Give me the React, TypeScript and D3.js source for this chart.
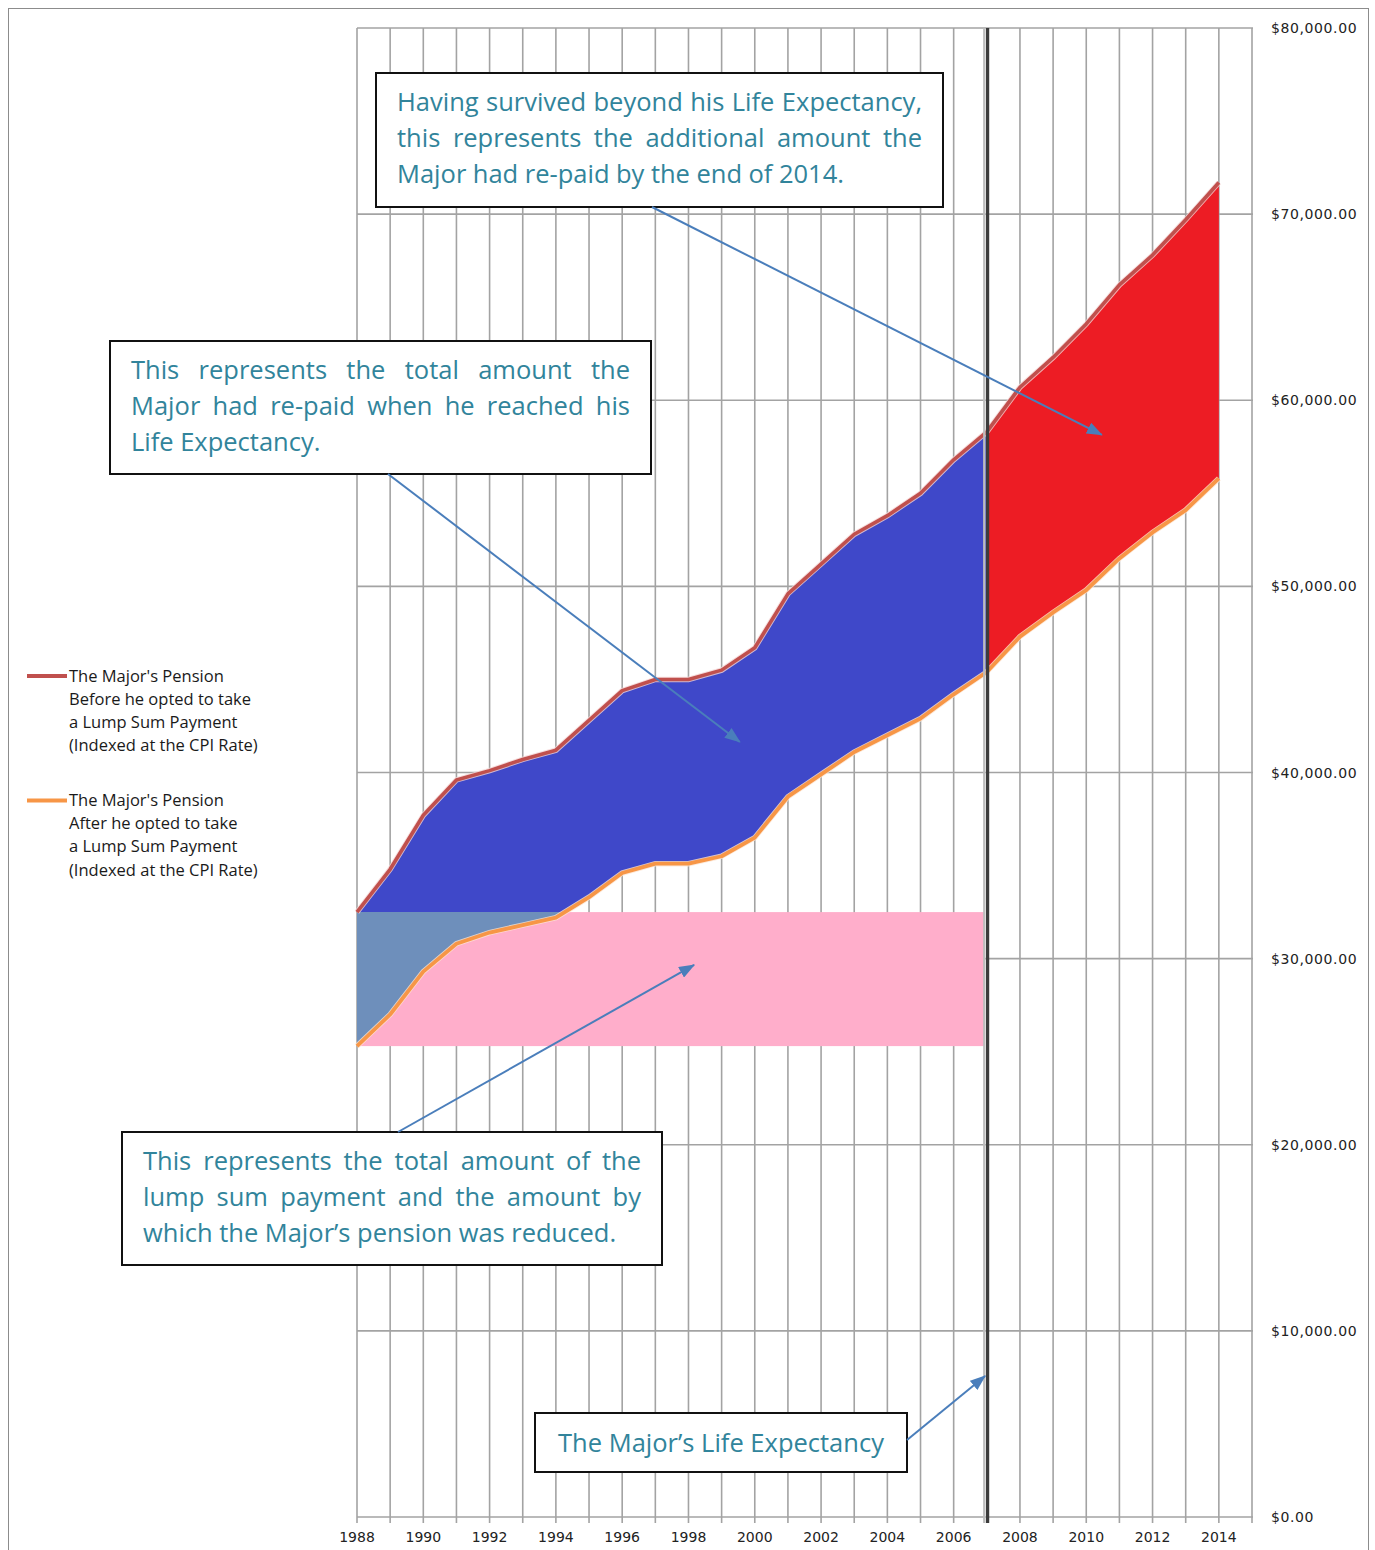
import React, { useEffect, useRef } from "react";
import * as d3 from "d3";

// yearly pension values
const years = [1988, 1989, 1990, 1991, 1992, 1993, 1994, 1995, 1996, 1997, 1998, 1999, 2000, 2001, 2002, 2003, 2004, 2005, 2006, 2007, 2008, 2009, 2010, 2011, 2012, 2013, 2014];
const pensionBefore = [32500, 34800, 37700, 39600, 40100, 40700, 41200, 42800, 44400, 45000, 45000, 45500, 46700, 49600, 51200, 52800, 53800, 55000, 56800, 58300, 60700, 62300, 64100, 66200, 67800, 69700, 71700];
const pensionAfter = [25300, 27000, 29300, 30800, 31400, 31800, 32200, 33300, 34600, 35100, 35100, 35500, 36500, 38700, 39900, 41100, 42000, 42900, 44200, 45400, 47300, 48600, 49800, 51500, 52900, 54100, 55800];
const yTicks = [0, 10000, 20000, 30000, 40000, 50000, 60000, 70000, 80000];
const xTickLabels = [1988, 1990, 1992, 1994, 1996, 1998, 2000, 2002, 2004, 2006, 2008, 2010, 2012, 2014];
const lifeExpectancyYear = 2007;
const lumpSumTop = 32500;
const lumpSumBottom = 25300;

const legendItems = [
  { color: "#C0504D", lines: ["The Major's Pension", "Before he opted to take", "a Lump Sum Payment", "(Indexed at the CPI Rate)"] },
  { color: "#F79646", lines: ["The Major's Pension", "After he opted to take", "a Lump Sum Payment", "(Indexed at the CPI Rate)"] },
];

// boxes are laid out in page pixels, arrow tips point at [year, value]
const notes = [
  {
    lines: ["Having survived beyond his Life Expectancy,", "this represents the additional amount the", "Major had re-paid by the end of 2014."],
    box: [376, 73, 943, 207], from: [652, 207], tip: [2010.47, 58140], align: "justify",
  },
  {
    lines: ["This represents the total amount the", "Major had re-paid when he reached his", "Life Expectancy."],
    box: [110, 341, 651, 474], from: [388, 474], tip: [1999.55, 41640], align: "justify",
  },
  {
    lines: ["This represents the total amount of the", "lump sum payment and the amount by", "which the Major\u2019s pension was reduced."],
    box: [122, 1132, 662, 1265], from: [398, 1132], tip: [1998.17, 29660], align: "justify",
  },
  {
    lines: ["The Major\u2019s Life Expectancy"],
    box: [535, 1413, 907, 1472], from: [907, 1440], tip: [2006.95, 7580], align: "center",
  },
];

const NOTE_FONT = "'Open Sans', Lato, sans-serif";
const AXIS_FONT = "'DejaVu Sans', sans-serif";

const App = () => {
  const svgRef = useRef(null);
  const width = 1375;
  const height = 1550;
  const margin = { top: 28, right: 123, bottom: 33, left: 357 };

  useEffect(() => {
    const svg = d3.select(svgRef.current);
    svg.selectAll("*").remove();

    const x = d3.scaleLinear().domain([1988, 2015]).range([margin.left, width - margin.right]);
    const y = d3.scaleLinear().domain([0, 80000]).range([height - margin.bottom, margin.top]);

    const rows = years.map((yr, i) => ({ year: yr, before: pensionBefore[i], after: pensionAfter[i] }));
    const early = rows.filter((d) => d.year <= lifeExpectancyYear);
    const late = rows.filter((d) => d.year >= lifeExpectancyYear);

    // outer frame
    svg.append("rect")
      .attr("x", 8.5).attr("y", 8.5)
      .attr("width", 1360).attr("height", 1570)
      .attr("fill", "white")
      .attr("stroke", "#8c8c8c");

    const grid = svg.append("g").attr("stroke", "#a3a3a3").attr("stroke-width", 1.6);
    // vertical gridlines, one per year
    grid.selectAll(".vg")
      .data(d3.range(1988, 2016))
      .enter()
      .append("line")
      .attr("x1", (d) => x(d)).attr("x2", (d) => x(d))
      .attr("y1", y(80000)).attr("y2", y(0) + 6);
    grid.selectAll(".hg")
      .data(yTicks)
      .enter()
      .append("line")
      .attr("x1", x(1988)).attr("x2", x(2015) + 1)
      .attr("y1", (d) => y(d)).attr("y2", (d) => y(d));

    // lump sum band
    svg.append("rect")
      .attr("x", x(1988))
      .attr("y", y(lumpSumTop))
      .attr("width", x(lifeExpectancyYear) - x(1988) - 2)
      .attr("height", y(lumpSumBottom) - y(lumpSumTop))
      .attr("fill", "#FFAECB");

    const band = d3.area()
      .x((d) => x(d.year))
      .y0((d) => y(d.after))
      .y1((d) => y(d.before));

    svg.append("path").datum(early).attr("d", band).attr("fill", "#3F48C9");

    // overlap of re-paid area and the lump sum band
    svg.append("clipPath").attr("id", "lumpClip")
      .append("rect")
      .attr("x", x(1988))
      .attr("y", y(lumpSumTop))
      .attr("width", x(lifeExpectancyYear) - x(1988))
      .attr("height", y(lumpSumBottom) - y(lumpSumTop));
    svg.append("path").datum(early).attr("d", band)
      .attr("fill", "#6E8FBB")
      .attr("clip-path", "url(#lumpClip)");

    svg.append("path").datum(late).attr("d", band).attr("fill", "#ED1C24");

    // pension lines
    const lineBefore = d3.line().x((d) => x(d.year)).y((d) => y(d.before));
    const lineAfter = d3.line().x((d) => x(d.year)).y((d) => y(d.after));
    svg.append("path").datum(rows).attr("d", lineBefore)
      .attr("fill", "none").attr("stroke", "#f4d4d4").attr("stroke-width", 5.5).attr("opacity", 0.8);
    svg.append("path").datum(rows).attr("d", lineBefore)
      .attr("fill", "none").attr("stroke", "#C0504D").attr("stroke-width", 3.6).attr("stroke-linejoin", "round");
    svg.append("path").datum(rows).attr("d", lineAfter)
      .attr("fill", "none").attr("stroke", "#fde3cf").attr("stroke-width", 5.5).attr("opacity", 0.8);
    svg.append("path").datum(rows).attr("d", lineAfter)
      .attr("fill", "none").attr("stroke", "#F79646").attr("stroke-width", 3.8).attr("stroke-linejoin", "round");

    // life expectancy marker
    const lx = x(lifeExpectancyYear);
    svg.append("line")
      .attr("x1", lx - 2.5).attr("x2", lx - 2.5)
      .attr("y1", y(80000)).attr("y2", y(0) + 6)
      .attr("stroke", "#bdbdbd").attr("stroke-width", 2.4);
    svg.append("line")
      .attr("x1", lx + 0.8).attr("x2", lx + 0.8)
      .attr("y1", y(80000)).attr("y2", y(0) + 6)
      .attr("stroke", "#3c3c3c").attr("stroke-width", 3.2);

    // axis labels
    svg.selectAll(".xl")
      .data(xTickLabels)
      .enter()
      .append("text")
      .attr("x", (d) => x(d))
      .attr("y", 1542)
      .attr("text-anchor", "middle")
      .style("font-family", AXIS_FONT)
      .style("font-size", "14px")
      .attr("fill", "#222")
      .text((d) => d);

    svg.selectAll(".yl")
      .data(yTicks)
      .enter()
      .append("text")
      .attr("x", 1271)
      .attr("y", (d) => y(d) + 5)
      .style("font-family", AXIS_FONT)
      .style("font-size", "14px")
      .style("letter-spacing", "0.6px")
      .attr("fill", "#222")
      .text((d) => "$" + d3.format(",.2f")(d));

    // legend
    legendItems.forEach((item, k) => {
      const ly = 676 + k * 124.5;
      svg.append("line")
        .attr("x1", 27).attr("x2", 67)
        .attr("y1", ly).attr("y2", ly)
        .attr("stroke", item.color).attr("stroke-width", 4);
      item.lines.forEach((t, i) => {
        svg.append("text")
          .attr("x", 69)
          .attr("y", ly + i * 23.2 + 5.5)
          .style("font-family", NOTE_FONT)
          .style("font-size", "16.5px")
          .attr("fill", "#1a1a1a")
          .text(t);
      });
    });

    // annotations
    const defs = svg.append("defs");
    defs.append("marker")
      .attr("id", "head")
      .attr("markerUnits", "userSpaceOnUse")
      .attr("viewBox", "0 0 16 12")
      .attr("markerWidth", 16).attr("markerHeight", 12)
      .attr("refX", 15).attr("refY", 6)
      .attr("orient", "auto")
      .append("path")
      .attr("d", "M0,0 L16,6 L0,12 Z")
      .attr("fill", "#4A7EBB");

    notes.forEach((n) => {
      const [bx0, by0, bx1, by1] = n.box;
      svg.append("rect")
        .attr("x", bx0).attr("y", by0)
        .attr("width", bx1 - bx0).attr("height", by1 - by0)
        .attr("fill", "white")
        .attr("stroke", "#111").attr("stroke-width", 2);

      const left = bx0 + 21;
      const right = bx1 - 21;
      n.lines.forEach((line, i) => {
        const ty = by0 + 37.5 + i * 36;
        if (n.align === "center") {
          svg.append("text")
            .attr("x", (bx0 + bx1) / 2).attr("y", by0 + 39)
            .attr("text-anchor", "middle")
            .style("font-family", NOTE_FONT).style("font-size", "25.5px")
            .attr("fill", "#31849B")
            .text(line);
          return;
        }
        const words = line.split(" ");
        const nodes = words.map((w) => svg.append("text")
          .attr("y", ty)
          .style("font-family", NOTE_FONT).style("font-size", "25.5px")
          .attr("fill", "#31849B")
          .text(w));
        const widths = nodes.map((t) => t.node().getComputedTextLength());
        const total = d3.sum(widths);
        const space = 6.5;
        const lastLine = i === n.lines.length - 1;
        const gap = lastLine || words.length < 2 ? space : Math.max(4, (right - left - total) / (words.length - 1));
        let cx = left;
        nodes.forEach((t, j) => {
          t.attr("x", cx);
          cx += widths[j] + gap;
        });
      });

      svg.append("line")
        .attr("x1", n.from[0]).attr("y1", n.from[1])
        .attr("x2", x(n.tip[0])).attr("y2", y(n.tip[1]))
        .attr("stroke", "#4A7EBB").attr("stroke-width", 2)
        .attr("marker-end", "url(#head)");
    });
  });

  return (
    <svg
      ref={svgRef}
      width={width}
      height={height}
      style={{ position: "absolute", left: 0, top: 0, background: "white" }}
    ></svg>
  );
};

export default App;
